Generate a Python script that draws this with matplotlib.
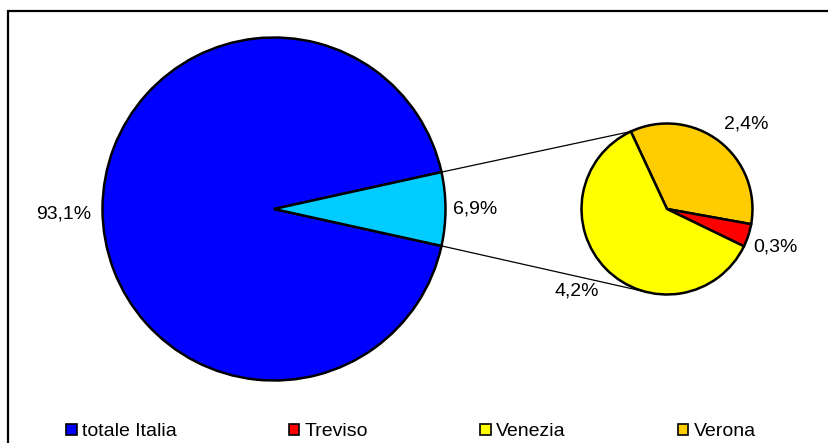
import numpy as np
import matplotlib
matplotlib.use("Agg")
import matplotlib.pyplot as plt
from matplotlib.patches import Rectangle, Patch

plt.rcParams['font.family'] = ['Liberation Sans', 'DejaVu Sans']

# Shares (%) of the total
main_labels = ["totale Italia", "Veneto"]
main_values = [93.1, 6.9]
main_colors = ["#0000FF", "#00CCFF"]

# Breakdown of the 6,9% slice by province
sub_labels = ["Verona", "Treviso", "Venezia"]
sub_values = [2.4, 0.3, 4.2]
sub_colors = ["#FFCC00", "#FF0000", "#FFFF00"]

legend_labels = ["totale Italia", "Treviso", "Venezia", "Verona"]
legend_colors = ["#0000FF", "#FF0000", "#FFFF00", "#FFCC00"]

W, H = 829, 443
fig = plt.figure(figsize=(W / 100, H / 100), dpi=100)
ax = fig.add_axes([0, 0, 1, 1])

# pixel-like coordinates, y measured upward
big_c, big_r = (274.0, H - 209.0), 171.5
small_c, small_r = (667.0, H - 209.0), 85.5

def fmt(v):
    return f"{v:.1f}".replace(".", ",") + "%"

wedge_kw = dict(edgecolor="black", linewidth=1.8)

# main pie: the small slice is centred on the right-hand side
half = main_values[1] / sum(main_values) * 180.0
ax.pie(main_values, colors=main_colors, startangle=half, counterclock=True,
       center=big_c, radius=big_r, wedgeprops=wedge_kw, frame=True)

# secondary pie
sub_start = 115.0
ax.pie(sub_values, colors=sub_colors, startangle=sub_start, counterclock=False,
       center=small_c, radius=small_r, wedgeprops=wedge_kw, frame=True)

# connector lines between the two pies
def pt(c, r, ang):
    a = np.deg2rad(ang)
    return c[0] + r * np.cos(a), c[1] + r * np.sin(a)

p1 = pt(big_c, big_r, half)
p2 = pt(small_c, small_r, sub_start)
p3 = pt(big_c, big_r, -half)
p4 = pt(small_c, small_r, -103.0)
ax.plot([p1[0], p2[0]], [p1[1], p2[1]], color="black", lw=0.9)
ax.plot([p3[0], p4[0]], [p3[1], p4[1]], color="black", lw=0.9)

fs = 14
# main pie labels
acc = half
main_dist = [1.225, 1.17]
main_shift = [1.4, 0.0]
for v, d, s in zip(main_values, main_dist, main_shift):
    span = v / sum(main_values) * 360.0
    mid = acc + span / 2.0 + s
    acc += span
    x, y = pt(big_c, big_r * d, mid)
    ax.text(x, y, fmt(v), ha="center", va="center", fontsize=fs)

# secondary pie labels
tot = sum(sub_values)
acc = sub_start
sub_dist = [1.36, 1.34, 1.42]
sub_shift = [-5.3, -1.4, -2.3]
for v, d, s in zip(sub_values, sub_dist, sub_shift):
    span = v / tot * 360.0
    mid = acc - span / 2.0 + s
    acc -= span
    x, y = pt(small_c, small_r * d, mid)
    ax.text(x, y, fmt(v), ha="center", va="center", fontsize=fs)

# chart border, running off the right and bottom edges
ax.add_patch(Rectangle((8.5, -20), W + 40, H - 10.5 + 20, fill=False,
                       edgecolor="black", lw=1.6))

ax.set_xlim(0, W)
ax.set_ylim(0, H)
ax.set_aspect("auto")
ax.axis("off")

handles = [Patch(facecolor=c, edgecolor="black", linewidth=1.2) for c in legend_colors]
fig.legend(handles, legend_labels, ncol=4, loc="center left",
           bbox_to_anchor=(66 / W, 11 / H), frameon=False, fontsize=fs,
           handlelength=0.55, handleheight=0.55, handletextpad=0.28,
           columnspacing=5.75, borderpad=0, borderaxespad=0)

fig.savefig("out.png", dpi=100)
